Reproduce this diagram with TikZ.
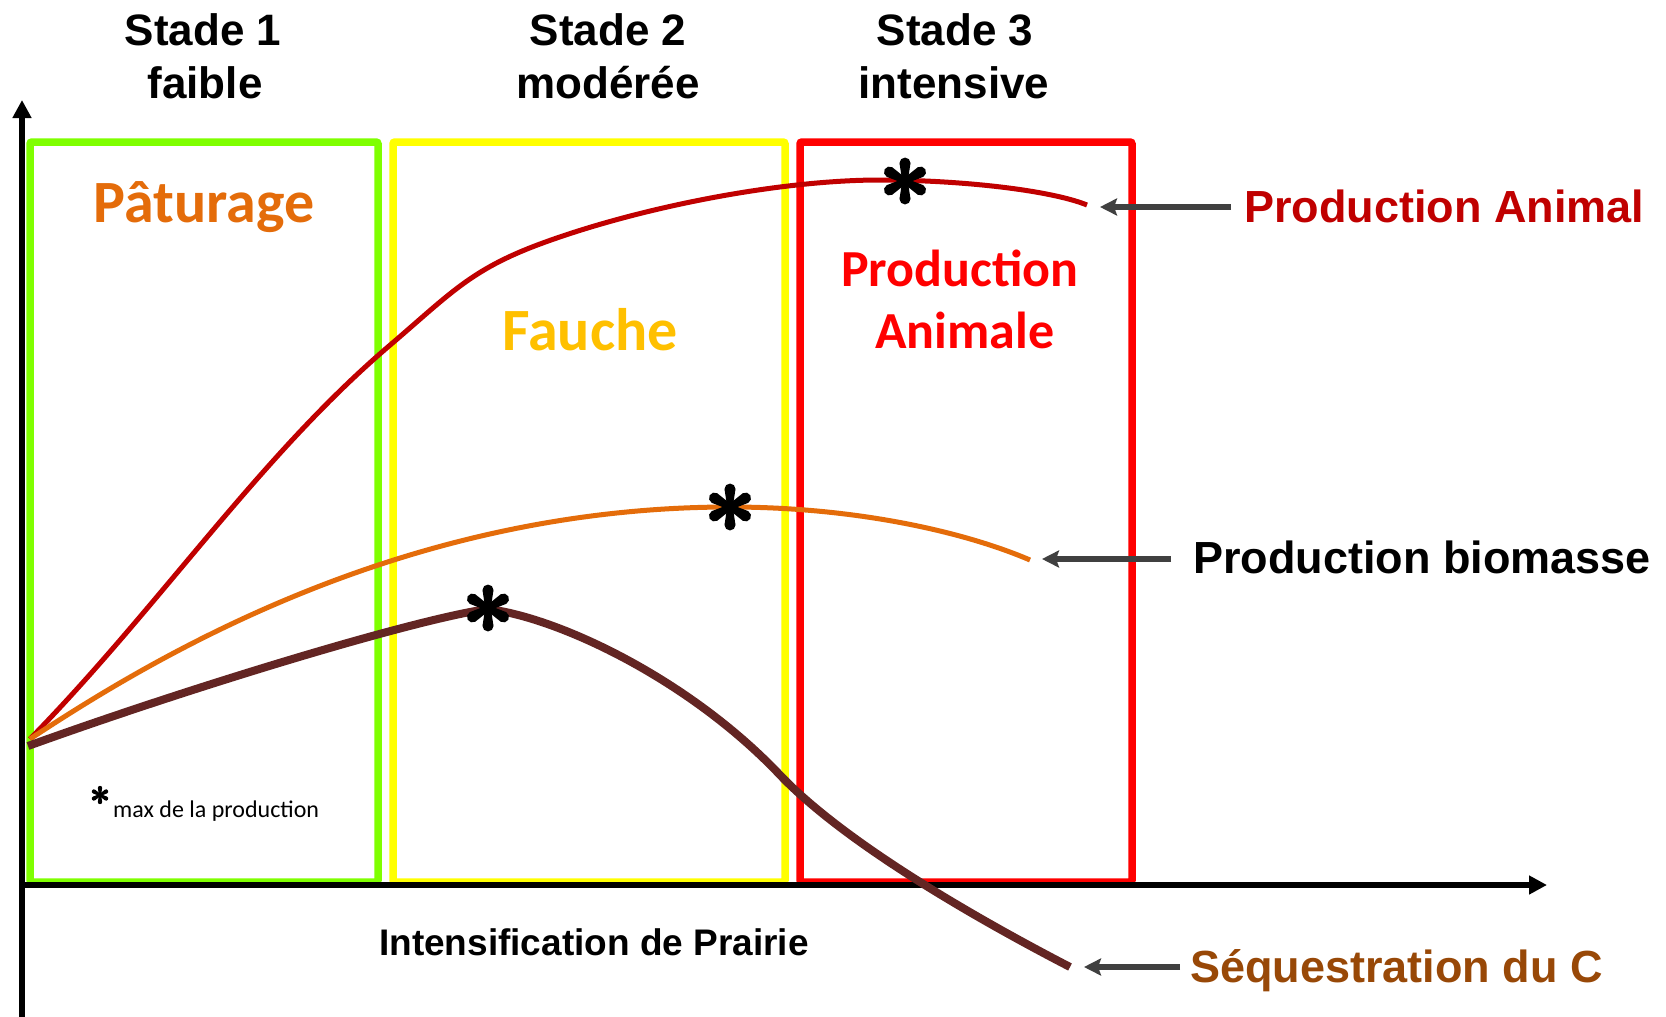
\documentclass[tikz,border=0pt]{standalone}
\usepackage{fontspec}
\setmainfont{Liberation Sans}
\newfontfamily\calibri{Carlito}
\usetikzlibrary{arrows.meta,calc}

\definecolor{boxgreen}{HTML}{7FFF00}
\definecolor{boxyellow}{HTML}{FFFF00}
\definecolor{boxred}{HTML}{FF0000}
\definecolor{animalred}{HTML}{C00000}
\definecolor{biomorange}{HTML}{E46C0A}
\definecolor{carbonbrown}{HTML}{632523}
\definecolor{fauchegold}{HTML}{FFC000}
\definecolor{seqbrown}{HTML}{984807}
\definecolor{pointer}{HTML}{404040}

\tikzset{
  stagebox/.style={line width=7.5pt, rounded corners=2pt},
  axisline/.style={line width=5.5pt, -{Triangle[length=18pt,width=18pt]}},
  ptr/.style={pointer, line width=6pt, -{Stealth[length=17pt,width=17pt,inset=3pt]}},
  stade/.style={font=\bfseries\fontsize{44}{50}\selectfont, anchor=base, inner sep=0pt},
  zone/.style={font=\calibri\bfseries\fontsize{60}{66}\selectfont, anchor=base, inner sep=0pt},
  zonesm/.style={font=\calibri\bfseries\fontsize{52}{60}\selectfont, anchor=base, inner sep=0pt},
  legend/.style={font=\bfseries\fontsize{45}{52}\selectfont, anchor=base west, inner sep=0pt},
  % six-armed bold asterisk marking a maximum
  pics/astx/.style={code={
    \foreach \a in {90,30,-30,-90,-150,150}
      \fill[black, rotate=\a] (0,-0.12*#1) -- (0.78*#1,-0.24*#1)
        arc[start angle=-90,end angle=90,radius=0.24*#1] -- (0,0.12*#1) -- cycle;
  }}
}

\begin{document}
\begin{tikzpicture}[x=1pt,y=-1pt]
\fill[white] (0,0) rectangle (1666,1017);
\useasboundingbox (0,0) rectangle (1666,1017);

% stage frames
\draw[stagebox, boxgreen]  (30,142) rectangle (378,882);
\draw[stagebox, boxyellow] (393,142) rectangle (785,882);
\draw[stagebox, boxred]    (800,142) rectangle (1132,882);

% axes
\coordinate (ybot) at (22,1017);
\coordinate (ytop) at (22,100);
\coordinate (xorg) at (20,885);
\coordinate (xend) at (1547,885);
\draw[axisline] (ybot) -- (ytop);
\draw[axisline] (xorg) -- (xend);

% response curves
\draw[animalred, line width=5pt]
  (30,739) .. controls (160,606) and (259,457) .. (389,346)
           .. controls (450,294) and (470,270) .. (540,244)
           .. controls (640,207) and (780,180) .. (880,180)
           .. controls (960,180) and (1050,190) .. (1087,205);
\draw[biomorange, line width=5pt]
  (30,739) .. controls (150,660) and (400,507) .. (730,507)
           .. controls (850,507) and (960,530) .. (1030,560);
\draw[carbonbrown, line width=8pt]
  (28,746) .. controls (200,684) and (420,618) .. (488,609)
           .. controls (560,618) and (690,680) .. (780,775)
           .. controls (840,838) and (960,910) .. (1070,967);

% maxima
\pic at (905,181) {astx=23};
\pic at (730,507) {astx=23};
\pic at (488,608) {astx=23};

% stage headings
\node[stade] (st1) at (203,45) {Stade 1};
\node[stade] (fa1) at (205,98) {faible};
\node[stade] (st2) at (608,45) {Stade 2};
\node[stade] (mo2) at (608,98) {modérée};
\node[stade] (st3) at (955,45) {Stade 3};
\node[stade] (in3) at (954,98) {intensive};

% usages
\node[zone, biomorange] (patur) at (204,222) {Pâturage};
\node[zone, fauchegold] (fauche) at (590,350) {Fauche};
\node[zonesm, boxred] (prodA) at (960,286) {Production};
\node[zonesm, boxred] (prodB) at (965,348) {Animale};

% axis title
\node[font=\bfseries\fontsize{37}{44}\selectfont, anchor=base, inner sep=0pt]
  (xlab) at (594,955) {Intensification de Prairie};

% note
\pic at (100,795) {astx=9};
\node[font=\calibri\fontsize{24}{28}\selectfont, anchor=base west, inner sep=0pt]
  (note) at (113,817) {max de la production};

% curve legends with pointers
\node[legend, animalred] (lblA) at (1244,222) {Production Animal};
\node[legend, black] (lblB) at (1193,573) {Production biomasse};
\node[legend, seqbrown] (lblC) at (1190,982) {Séquestration du C};

\coordinate (tipA) at (1100,207);
\coordinate (tipB) at (1042,559);
\coordinate (tipC) at (1084,967);
\draw[ptr] ($(lblA.west |- tipA)+(-13,0)$) -- (tipA);
\draw[ptr] ($(lblB.west |- tipB)+(-22,0)$) -- (tipB);
\draw[ptr] ($(lblC.west |- tipC)+(-10,0)$) -- (tipC);
\end{tikzpicture}
\end{document}
